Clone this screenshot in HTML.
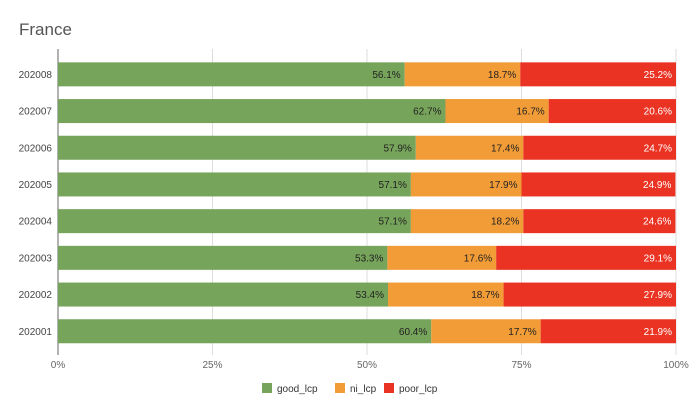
<!DOCTYPE html>
<html><head><meta charset="utf-8"><style>
body{margin:0;background:#fff;font-family:"Liberation Sans",Arial,sans-serif}
svg text{font-family:"Liberation Sans",Arial,sans-serif}
</style></head><body>
<svg width="696" height="413">
<text x="19" y="35" font-size="17" fill="#555">France</text>
<g id="grid"></g><g id="bars"></g><g id="lbls"></g>
<g font-size="10" fill="#333">
<rect x="262" y="383" width="10" height="10" fill="#77a45b"/><text x="277" y="392">good_lcp</text>
<rect x="335" y="383" width="10" height="10" fill="#f29c38"/><text x="350" y="392">ni_lcp</text>
<rect x="384" y="383" width="10" height="10" fill="#ea3323"/><text x="399" y="392">poor_lcp</text>
</g>
</svg>
<script>
const categories=["202008","202007","202006","202005","202004","202003","202002","202001"];
const good=[56.1,62.7,57.9,57.1,57.1,53.3,53.4,60.4];
const ni=[18.7,16.7,17.4,17.9,18.2,17.6,18.7,17.7];
const poor=[25.2,20.6,24.7,24.9,24.6,29.1,27.9,21.9];
const ticks=[0,25,50,75,100];
const NS="http://www.w3.org/2000/svg";
const x0=58,x1=676,yTop=56,step=36.7,bh=24;
const X=v=>x0+(x1-x0)*v/100;
const Y=i=>yTop+step*i+step/2;
function mk(t,a,p){const e=document.createElementNS(NS,t);for(const k in a)e.setAttribute(k,a[k]);p.appendChild(e);return e;}
const g=document.getElementById('grid'),b=document.getElementById('bars'),l=document.getElementById('lbls');
ticks.forEach(t=>{
 const ln=mk('line',{x1:X(t),x2:X(t),y1:49,y2:355,stroke:t==0?'#888':'#ddd','stroke-width':t==0?1.3:1},g);
 
 
 const tx=mk('text',{x:X(t),y:368,'font-size':10,fill:'#666','text-anchor':'middle'},g);
 tx.textContent=t+'%';
 
 
});
const series=[[good,'#77a45b','#222','good'],[ni,'#f29c38','#222','ni'],[poor,'#ea3323','#fff','poor']];
categories.forEach((c,i)=>{
 const cy=Y(i);
 const t=mk('text',{x:52,y:cy+3.5,'font-size':10,fill:'#444','text-anchor':'end'},l);
 t.textContent=c;
 
 
 let acc=0;
 series.forEach(([arr,col,tc,nm])=>{
  const v=arr[i];
  const r=mk('rect',{x:X(acc),y:cy-bh/2,width:X(acc+v)-X(acc),height:bh,fill:col},b);
  
  
  acc+=v;
  const vt=mk('text',{x:X(acc)-4,y:cy+3.5,'font-size':10,fill:tc,'text-anchor':'end'},l);
  vt.textContent=v.toFixed(1)+'%';
  
  
 });
});
</script>
</body></html>
